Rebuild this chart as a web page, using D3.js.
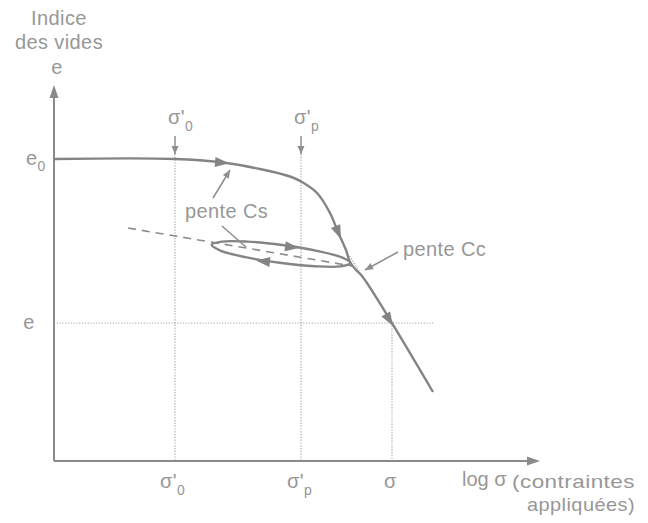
<!DOCTYPE html>
<html>
<head>
<meta charset="utf-8">
<script src="https://cdn.jsdelivr.net/npm/d3@7"></script>
<style>
  html, body { margin: 0; padding: 0; background: #fff; }
  svg { display: block; }
  text { font-family: "Liberation Sans", Arial, Helvetica, sans-serif; fill: #979797; letter-spacing: 0.4px; }
</style>
</head>
<body>
<script>
// Oedometer curve: void ratio e versus log of applied stress (schematic values)

// log σ positions of the reference stresses
const stressNames = ["σ'0", "σ'p", "σ"];
const stressValues = [0.605, 1.235, 1.69];
// void ratio levels: initial e0 and current e
const eLevelNames = ["e0", "e"];
const eLevelValues = [1.51, 0.69];

// loading path: [log σ, e]
const virginCurve = [
  [0, 1.51], [0.605, 1.51], [0.84, 1.4925], [1.03, 1.46], [1.18, 1.4225],
  [1.24, 1.395], [1.315, 1.34], [1.38, 1.24], [1.42, 1.145], [1.46, 1.055],
  [1.48, 0.995], [1.51, 0.955], [1.54, 0.925], [1.895, 0.345]
];
// unloading / reloading loop
const swellLoop = [
  [1.482, 0.990], [1.439, 1.018], [1.314, 1.051], [1.141, 1.080], [0.967, 1.097],
  [0.838, 1.097], [0.788, 1.081], [0.832, 1.052], [0.957, 1.019], [1.129, 0.991],
  [1.304, 0.974], [1.433, 0.973]
];
// swelling slope Cs (dashed) and short extension of the Cc line
const csLine = [[0.37, 1.165], [1.49, 0.975]];
const ccExtension = [[1.54, 0.925], [1.475, 1.03]];

// direction arrows along the paths: [from, to]
const pathArrows = [
  [[0.805, 1.495], [0.875, 1.4885]],
  [[1.4075, 1.175], [1.435, 1.11]],
  [[1.659, 0.735], [1.695, 0.675]],
  [[1.155, 1.0735], [1.225, 1.065]],
  [[1.08, 0.995], [1.01, 1.0025]]
];
// thin pointers for annotations: [from, to, hasHead]
const pointers = [
  [[0.795, 1.315], [0.88, 1.455], true],
  [[0.84, 1.175], [0.96, 1.07], false],
  [[1.72, 1.045], [1.555, 0.955], true],
  [[0.605, 1.625], [0.605, 1.535], true],
  [[1.235, 1.625], [1.235, 1.535], true]
];

const W = 648, H = 523;
const x = d3.scaleLinear().domain([0, 2.43]).range([54, 540]);
const y = d3.scaleLinear().domain([0, 1.88]).range([461, 85]);

const svg = d3.select("body").append("svg").attr("width", W).attr("height", H);

const lineCol = "#848484";
const dotCol = "#a4a4a4";

function head(g, p0, p1, len, hw, col) {
  const x0 = x(p0[0]), y0 = y(p0[1]), x1 = x(p1[0]), y1 = y(p1[1]);
  const a = Math.atan2(y1 - y0, x1 - x0);
  const bx = x1 - len * Math.cos(a), by = y1 - len * Math.sin(a);
  const nx = -Math.sin(a) * hw, ny = Math.cos(a) * hw;
  g.append("path")
    .attr("d", `M${x1},${y1}L${bx + nx},${by + ny}L${bx - nx},${by - ny}Z`)
    .attr("fill", col);
}

// guide lines
const guides = svg.append("g")
  .attr("stroke", dotCol).attr("stroke-width", 1.2).attr("stroke-dasharray", "1.2,1.6");
guides.append("line").attr("x1", x(stressValues[0])).attr("x2", x(stressValues[0]))
  .attr("y1", y(1.535)).attr("y2", y(0));
guides.append("line").attr("x1", x(stressValues[1])).attr("x2", x(stressValues[1]))
  .attr("y1", y(1.535)).attr("y2", y(0));
guides.append("line").attr("x1", x(stressValues[2])).attr("x2", x(stressValues[2]))
  .attr("y1", y(eLevelValues[1])).attr("y2", y(0));
guides.append("line").attr("x1", x(0)).attr("x2", x(1.895))
  .attr("y1", y(eLevelValues[1])).attr("y2", y(eLevelValues[1]));
guides.append("line")
  .attr("x1", x(ccExtension[0][0])).attr("y1", y(ccExtension[0][1]))
  .attr("x2", x(ccExtension[1][0])).attr("y2", y(ccExtension[1][1]));

// axes with arrowheads
const axes = svg.append("g");
axes.append("line").attr("x1", x(0)).attr("y1", y(0)).attr("x2", x(0)).attr("y2", y(1.83))
  .attr("stroke", "#8a8a8a").attr("stroke-width", 2);
axes.append("line").attr("x1", x(0)).attr("y1", y(0)).attr("x2", x(2.37)).attr("y2", y(0))
  .attr("stroke", "#8a8a8a").attr("stroke-width", 2);
head(axes, [0, 1.7], [0, 1.88], 13, 4.5, "#8a8a8a");
head(axes, [2.2, 0], [2.43, 0], 13, 4.5, "#8a8a8a");

// dashed swelling line
svg.append("path")
  .attr("d", d3.line().x(d => x(d[0])).y(d => y(d[1]))(csLine))
  .attr("fill", "none").attr("stroke", "#8c8c8c").attr("stroke-width", 1.6)
  .attr("stroke-dasharray", "8,6");

// loop
svg.append("path")
  .attr("d", d3.line().x(d => x(d[0])).y(d => y(d[1])).curve(d3.curveCatmullRomClosed.alpha(0.5))(swellLoop))
  .attr("fill", "none").attr("stroke", lineCol).attr("stroke-width", 2.4);

// loading curve
svg.append("path")
  .attr("d", d3.line().x(d => x(d[0])).y(d => y(d[1])).curve(d3.curveCatmullRom.alpha(0.5))(virginCurve))
  .attr("fill", "none").attr("stroke", lineCol).attr("stroke-width", 2.4);

const arrows = svg.append("g");
pathArrows.forEach(a => head(arrows, a[0], a[1], 14, 5, lineCol));

const ptr = svg.append("g");
pointers.forEach(p => {
  ptr.append("line")
    .attr("x1", x(p[0][0])).attr("y1", y(p[0][1]))
    .attr("x2", x(p[1][0])).attr("y2", y(p[1][1]))
    .attr("stroke", "#8e8e8e").attr("stroke-width", 1.5);
  if (p[2]) head(ptr, p[0], p[1], 8, 3.5, "#8e8e8e");
});

// labels
const fs = 20, sub = 14;
const T = svg.append("g").attr("font-size", fs);

T.append("text").attr("x", x(0) + 5).attr("y", 25).attr("text-anchor", "middle").text("Indice");
T.append("text").attr("x", x(0) + 5).attr("y", 49).attr("text-anchor", "middle").text("des vides");
T.append("text").attr("x", x(0) + 3).attr("y", 74).attr("text-anchor", "middle").text("e");

// e0 and e on the vertical axis
const e0t = T.append("text").attr("x", 26).attr("y", y(eLevelValues[0]) + 6);
e0t.append("tspan").text("e");
e0t.append("tspan").attr("font-size", sub).attr("dy", 6).text("0");
T.append("text").attr("x", 29).attr("y", y(eLevelValues[1]) + 6).attr("text-anchor", "middle").text("e");

function sigmaLabel(xc, baseline, subText) {
  const t = T.append("text").attr("x", xc - 7).attr("y", baseline);
  t.append("tspan").text("σ");
  if (subText !== null) {
    t.append("tspan").attr("dy", 0).text("'");
    t.append("tspan").attr("font-size", sub).attr("dy", 7).text(subText);
  }
}
// above the curve
sigmaLabel(x(stressValues[0]), 124, "0");
sigmaLabel(x(stressValues[1]), 124, "p");
// along the stress axis
sigmaLabel(x(stressValues[0]) - 8, 488, "0");
sigmaLabel(x(stressValues[1]) - 7, 488, "p");
sigmaLabel(x(stressValues[2]) - 1, 488, null);

T.append("text").attr("x", 462).attr("y", 486).attr("font-size", 20)
  .style("letter-spacing", "0px").text("log σ");
T.append("text").attr("x", 512).attr("y", 488).attr("font-size", 19)
  .attr("textLength", 123).attr("lengthAdjust", "spacingAndGlyphs").text("(contraintes");
T.append("text").attr("x", 527).attr("y", 511).attr("font-size", 19)
  .attr("textLength", 108).attr("lengthAdjust", "spacingAndGlyphs").text("appliquées)");

T.append("text").attr("x", 185).attr("y", 218).text("pente Cs");
T.append("text").attr("x", 403).attr("y", 256).text("pente Cc");
</script>
</body>
</html>
